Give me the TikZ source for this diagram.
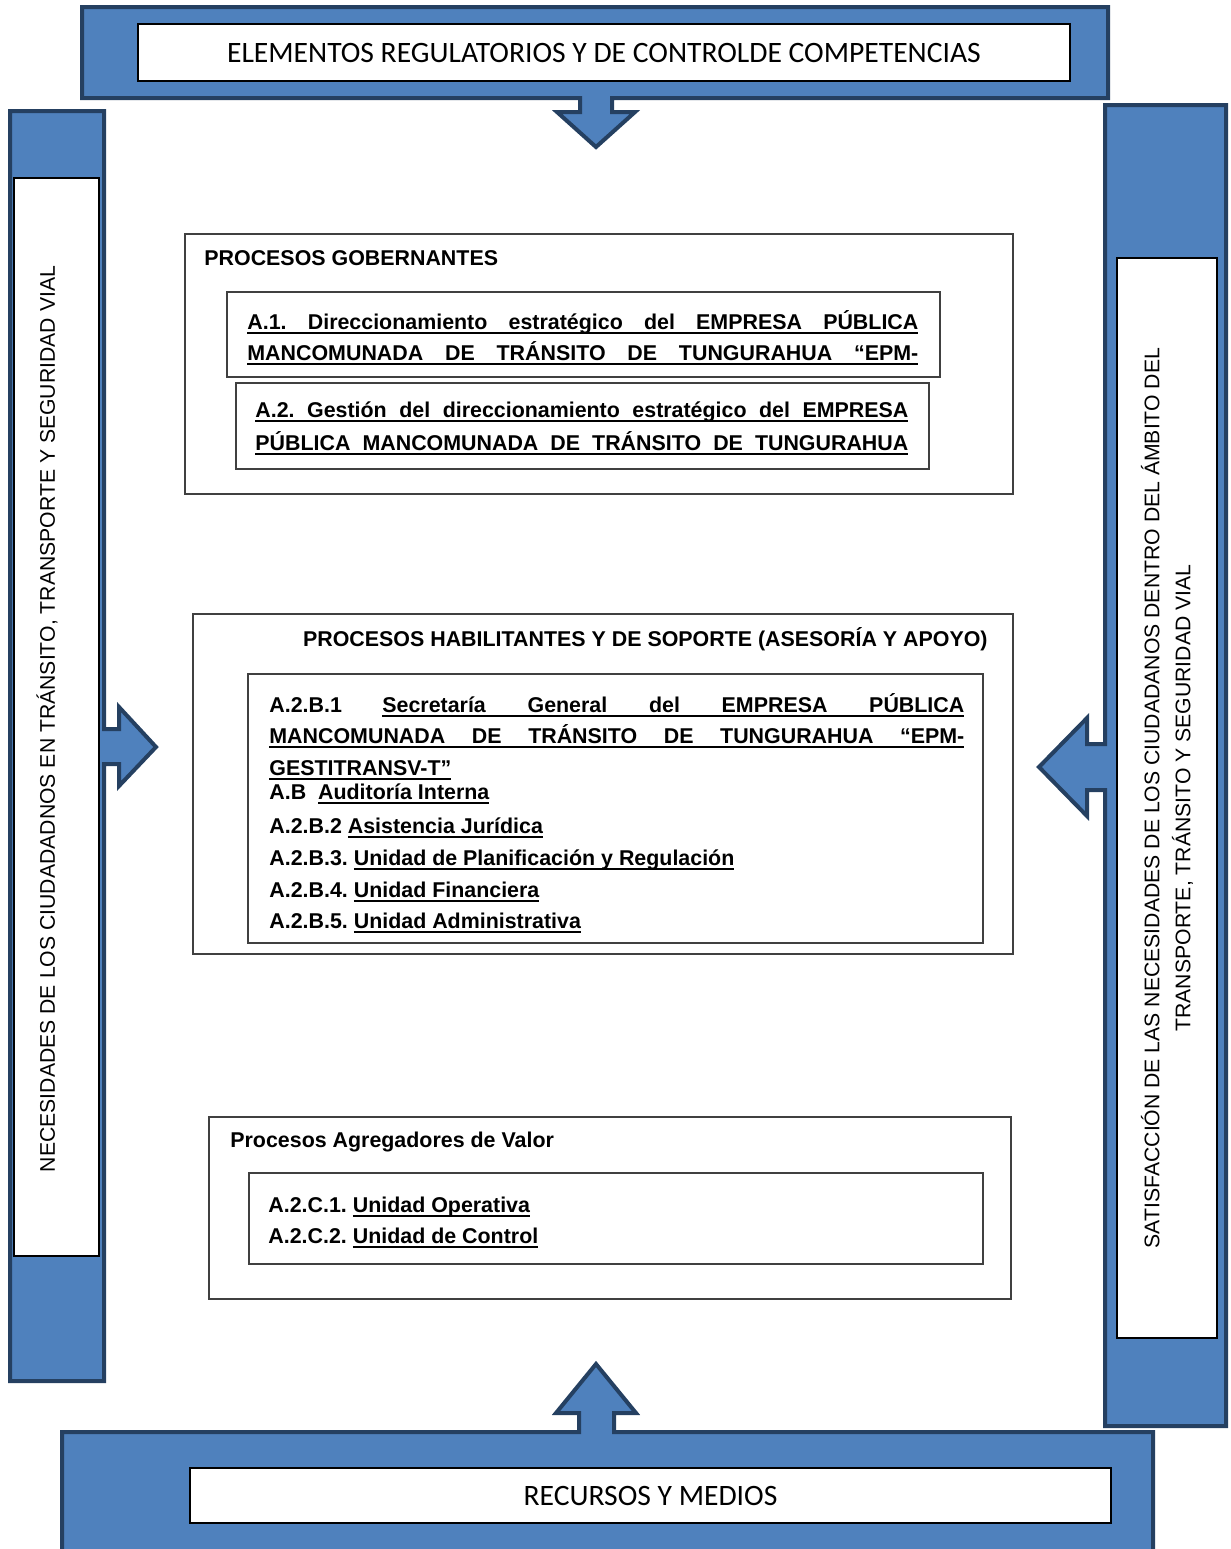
\documentclass[tikz,border=0pt]{standalone}
\usepackage{fontspec}
\setmainfont{Liberation Sans}
\newfontfamily\calfont{Carlito}
\frenchspacing
\definecolor{barblue}{RGB}{79,129,189}
\definecolor{bardark}{RGB}{37,64,97}
\newcommand\ul[1]{\setbox0\hbox{#1}\rlap{\vrule height -1.5pt depth 2.4pt width \wd0}\box0}
\newcommand\jline[2]{\ul{\hbox to #1{#2}}}

\begin{document}
\begin{tikzpicture}[x=0.5pt,y=-0.5pt,every node/.append style={inner sep=0pt},
                    bar/.style={fill=barblue,draw=bardark,line width=2pt,line join=miter},
                    wbox/.style={draw=black,fill=white,line width=0.6pt},
                    pbox/.style={draw=black!75,line width=0.6pt},
                    ttl/.style={anchor=base west,font=\bfseries\fontsize{10.7}{13}\selectfont},
                    ln/.style={anchor=base west,font=\bfseries\fontsize{10.7}{13}\selectfont},
                    vtxt/.style={rotate=90,font=\fontsize{10.6}{15.5}\selectfont},
                    bantxt/.style={font=\calfont\fontsize{14.8}{17}\selectfont}]
    \useasboundingbox (0,0) rectangle (1231,1549);
    \draw[bar] (82,7) -- (1108,7) -- (1108,98) -- (612,98) -- (612,112) -- (635,112) -- (596,147)
        -- (557,112) -- (580,112) -- (580,98) -- (82,98) -- cycle;
    \draw[bar] (10,111) -- (104,111) -- (104,729) -- (119,729) -- (119,707) -- (156,747) -- (119,786)
        -- (119,764) -- (104,764) -- (104,1381) -- (10,1381) -- cycle;
    \draw[bar] (1105,105) -- (1226,105) -- (1226,1426) -- (1105,1426) -- (1105,790) -- (1087,790)
        -- (1087,816) -- (1039,767) -- (1087,718) -- (1087,744) -- (1105,744) -- cycle;
    \draw[bar] (62,1432) -- (579,1432) -- (579,1413) -- (556,1413) -- (596,1364) -- (636,1413)
        -- (614,1413) -- (614,1432) -- (1153,1432) -- (1153,1570) -- (62,1570) -- cycle;
    \node[wbox,bantxt,minimum width=466pt,minimum height=28.5pt] (regul) at (604,52.5)
        {ELEMENTOS REGULATORIOS Y DE CONTROLDE COMPETENCIAS};
    \node[wbox,bantxt,minimum width=460.5pt,minimum height=27.5pt] (recur) at (650.5,1495.5)
        {RECURSOS Y MEDIOS};
    \node[wbox,minimum width=42.5pt,minimum height=539pt] (necbox) at (56.5,717) {};
    \node[vtxt] (nectxt) at (47,719)
        {NECESIDADES DE LOS CIUDADADNOS EN TRÁNSITO, TRANSPORTE Y SEGURIDAD VIAL};
    \node[wbox,vtxt,align=center,minimum width=540pt,minimum height=50pt] (satbox) at (1167,798)
        {SATISFACCIÓN DE LAS NECESIDADES DE LOS CIUDADANOS DENTRO DEL ÁMBITO DEL\\
         TRANSPORTE, TRÁNSITO Y SEGURIDAD VIAL};
    \draw[pbox] (185,234) rectangle (1013,494);
    \draw[pbox] (227,292) rectangle (940,377);
    \draw[pbox] (236,383) rectangle (929,469);
    \node[ttl] (gobt) at (204,265) {PROCESOS GOBERNANTES};
    \node[ln] (a1a) at (247,329) {\jline{335.5pt}{A.1. Direccionamiento estratégico del EMPRESA PÚBLICA}};
    \node[ln] (a1b) at (247,360) {\jline{335.5pt}{MANCOMUNADA DE TRÁNSITO DE TUNGURAHUA “EPM-}};
    \node[ln] (a2a) at (255,417) {\jline{326.5pt}{A.2. Gestión del direccionamiento estratégico del EMPRESA}};
    \node[ln] (a2b) at (255,450) {\jline{326.5pt}{PÚBLICA MANCOMUNADA DE TRÁNSITO DE TUNGURAHUA}};
    \draw[pbox] (193,614) rectangle (1013,954);
    \draw[pbox] (248,674) rectangle (983,943);
    \node[ttl,anchor=base east] (habt) at (988,646) {PROCESOS HABILITANTES Y DE SOPORTE (ASESORÍA Y APOYO)};
    \node[ln] (b1a) at (269,712) {A.2.B.1};
    \node[ln] (b1s) at (382,712) {\jline{291pt}{Secretaría General del EMPRESA PÚBLICA}};
    \node[ln] (b1b) at (269,743) {\jline{347.5pt}{MANCOMUNADA DE TRÁNSITO DE TUNGURAHUA “EPM-}};
    \node[ln] (b1c) at (269,775) {\ul{GESTITRANSV-T”}};
    \node[ln] (bab) at (269,799) {A.B\ \ \ul{Auditoría Interna}};
    \node[ln] (b2) at (269,833) {A.2.B.2 \ul{Asistencia Jurídica}};
    \node[ln] (b3) at (269,865) {A.2.B.3. \ul{Unidad de Planificación y Regulación}};
    \node[ln] (b4) at (269,897) {A.2.B.4. \ul{Unidad Financiera}};
    \node[ln] (b5) at (269,928) {A.2.B.5. \ul{Unidad Administrativa}};
    \draw[pbox] (209,1117) rectangle (1011,1299);
    \draw[pbox] (249,1173) rectangle (983,1264);
    \node[ttl] (agrt) at (230,1147) {Procesos Agregadores de Valor};
    \node[ln] (c1) at (268,1212) {A.2.C.1. \ul{Unidad Operativa}};
    \node[ln] (c2) at (268,1243) {A.2.C.2. \ul{Unidad de Control}};
\end{tikzpicture}
\end{document}
